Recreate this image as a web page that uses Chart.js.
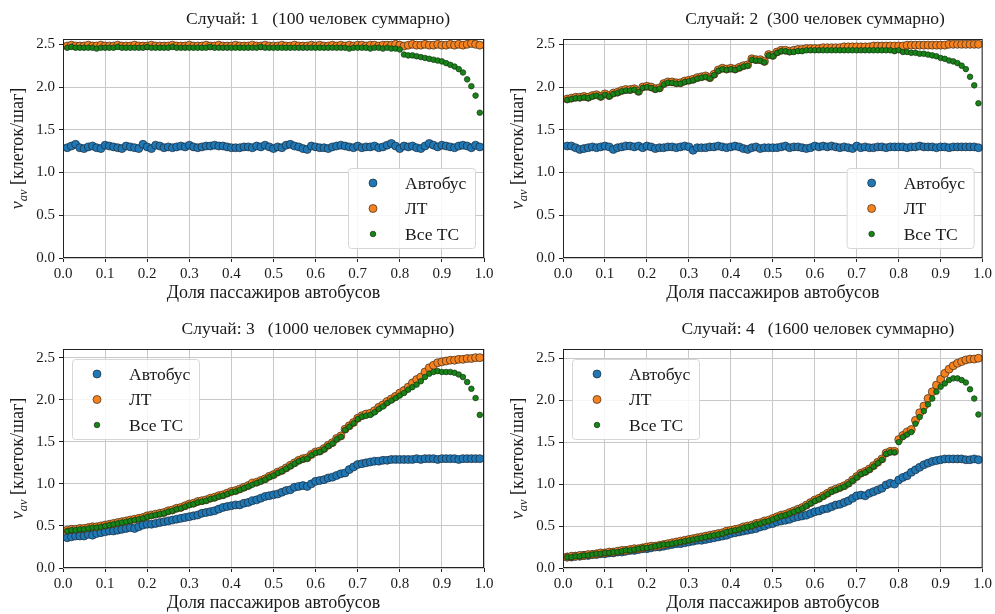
<!DOCTYPE html>
<html>
<head>
<meta charset="utf-8">
<script src="https://cdn.jsdelivr.net/npm/chart.js@4.4.1/dist/chart.umd.min.js"></script>
<style>
  html, body { margin: 0; padding: 0; background: #fff; }
  #wrap { position: relative; width: 995px; height: 614px; }
  canvas { position: absolute; }
</style>
</head>
<body>
<div id="wrap">
  <canvas id="c1" width="497" height="307" style="left:0;top:0"></canvas>
  <canvas id="c2" width="497" height="307" style="left:498px;top:0"></canvas>
  <canvas id="c3" width="497" height="307" style="left:0;top:307px"></canvas>
  <canvas id="c4" width="497" height="307" style="left:498px;top:307px"></canvas>
</div>
<script>
// =====================
// Данные
// =====================
const xs = [
  0.01,0.02,0.03,0.04,0.05,0.06,0.07,0.08,0.09,0.10,
  0.11,0.12,0.13,0.14,0.15,0.16,0.17,0.18,0.19,0.20,
  0.21,0.22,0.23,0.24,0.25,0.26,0.27,0.28,0.29,0.30,
  0.31,0.32,0.33,0.34,0.35,0.36,0.37,0.38,0.39,0.40,
  0.41,0.42,0.43,0.44,0.45,0.46,0.47,0.48,0.49,0.50,
  0.51,0.52,0.53,0.54,0.55,0.56,0.57,0.58,0.59,0.60,
  0.61,0.62,0.63,0.64,0.65,0.66,0.67,0.68,0.69,0.70,
  0.71,0.72,0.73,0.74,0.75,0.76,0.77,0.78,0.79,0.80,
  0.81,0.82,0.83,0.84,0.85,0.86,0.87,0.88,0.89,0.90,
  0.91,0.92,0.93,0.94,0.95,0.96,0.97,0.98,0.99
];
const xTicks = [0, 0.1, 0.2, 0.3, 0.4, 0.5, 0.6, 0.7, 0.8, 0.9, 1.0];
const yTicks = [0, 0.5, 1.0, 1.5, 2.0, 2.5];
const seriesNames = ["Автобус", "ЛТ", "Все ТС"];
const titles = [
  "Случай: 1   (100 человек суммарно)",
  "Случай: 2  (300 человек суммарно)",
  "Случай: 3   (1000 человек суммарно)",
  "Случай: 4   (1600 человек суммарно)"
];
const xLabel = "Доля пассажиров автобусов";

// Случай 1
const bus1 = [
  1.29,1.31,1.33,1.29,1.28,1.30,1.31,1.29,1.28,1.32,
  1.31,1.30,1.29,1.28,1.31,1.30,1.29,1.28,1.33,1.30,
  1.28,1.32,1.31,1.29,1.30,1.29,1.30,1.31,1.30,1.32,
  1.30,1.29,1.30,1.31,1.31,1.32,1.31,1.31,1.30,1.29,
  1.29,1.29,1.30,1.30,1.29,1.31,1.30,1.32,1.30,1.28,
  1.30,1.29,1.32,1.33,1.31,1.30,1.28,1.27,1.31,1.30,
  1.29,1.29,1.28,1.30,1.31,1.32,1.31,1.30,1.29,1.31,
  1.29,1.30,1.30,1.31,1.29,1.30,1.32,1.34,1.31,1.28,
  1.31,1.30,1.31,1.29,1.28,1.31,1.34,1.32,1.30,1.32,
  1.31,1.30,1.29,1.31,1.32,1.31,1.29,1.32,1.30
];
const lt1 = [
  2.48,2.49,2.48,2.48,2.48,2.49,2.48,2.48,2.49,2.48,
  2.48,2.48,2.49,2.48,2.48,2.48,2.49,2.48,2.48,2.48,
  2.49,2.48,2.48,2.48,2.48,2.49,2.48,2.48,2.48,2.49,
  2.48,2.48,2.48,2.49,2.48,2.48,2.49,2.48,2.48,2.48,
  2.49,2.48,2.48,2.48,2.49,2.48,2.48,2.49,2.48,2.48,
  2.48,2.49,2.48,2.48,2.49,2.48,2.48,2.48,2.49,2.48,
  2.49,2.48,2.48,2.49,2.48,2.49,2.48,2.49,2.48,2.49,
  2.49,2.48,2.49,2.49,2.48,2.49,2.49,2.49,2.50,2.49,
  2.48,2.49,2.50,2.49,2.49,2.50,2.49,2.49,2.50,2.49,
  2.49,2.50,2.49,2.50,2.49,2.50,2.51,2.50,2.49
];
const all1 = [
  2.46,2.47,2.46,2.46,2.46,2.46,2.46,2.45,2.46,2.46,
  2.46,2.46,2.47,2.46,2.46,2.46,2.46,2.46,2.46,2.47,
  2.46,2.46,2.46,2.46,2.46,2.47,2.46,2.46,2.46,2.46,
  2.46,2.46,2.46,2.46,2.47,2.46,2.46,2.46,2.46,2.46,
  2.46,2.46,2.46,2.46,2.46,2.46,2.47,2.46,2.46,2.46,
  2.46,2.46,2.46,2.46,2.46,2.46,2.46,2.46,2.46,2.46,
  2.46,2.46,2.46,2.46,2.46,2.46,2.46,2.45,2.46,2.46,
  2.46,2.46,2.45,2.46,2.46,2.45,2.46,2.45,2.45,2.44,
  2.38,2.37,2.37,2.36,2.35,2.34,2.33,2.32,2.31,2.30,
  2.28,2.26,2.24,2.21,2.17,2.09,2.01,1.90,1.70
];

// Случай 2
const bus2 = [
  1.31,1.31,1.29,1.27,1.28,1.29,1.30,1.29,1.30,1.31,
  1.30,1.27,1.29,1.30,1.31,1.31,1.30,1.31,1.29,1.31,
  1.30,1.28,1.29,1.29,1.30,1.30,1.29,1.30,1.31,1.30,
  1.26,1.29,1.29,1.29,1.30,1.30,1.31,1.30,1.29,1.30,
  1.31,1.30,1.28,1.27,1.29,1.30,1.28,1.29,1.29,1.29,
  1.29,1.30,1.31,1.29,1.30,1.30,1.29,1.28,1.29,1.31,
  1.30,1.31,1.30,1.31,1.30,1.29,1.30,1.29,1.28,1.31,
  1.29,1.30,1.29,1.29,1.30,1.30,1.29,1.30,1.30,1.30,
  1.30,1.29,1.30,1.30,1.31,1.30,1.30,1.30,1.29,1.30,
  1.30,1.29,1.30,1.30,1.30,1.30,1.30,1.30,1.29
];
const lt2 = [
  1.86,1.87,1.88,1.88,1.89,1.88,1.90,1.91,1.89,1.92,
  1.90,1.93,1.94,1.96,1.97,1.97,1.98,1.95,2.00,2.01,
  2.00,1.98,1.99,2.04,2.06,2.06,2.05,2.05,2.07,2.08,
  2.09,2.11,2.12,2.13,2.11,2.15,2.20,2.22,2.21,2.22,
  2.21,2.23,2.25,2.26,2.33,2.32,2.32,2.30,2.38,2.37,
  2.41,2.43,2.43,2.42,2.43,2.44,2.44,2.45,2.45,2.45,
  2.45,2.46,2.46,2.46,2.46,2.46,2.47,2.47,2.47,2.47,
  2.47,2.47,2.47,2.48,2.48,2.48,2.48,2.48,2.48,2.48,
  2.48,2.49,2.49,2.49,2.49,2.49,2.49,2.49,2.49,2.49,
  2.49,2.50,2.50,2.50,2.50,2.50,2.50,2.50,2.50
];
const all2 = [
  1.85,1.86,1.87,1.87,1.88,1.87,1.89,1.90,1.88,1.91,
  1.89,1.92,1.93,1.95,1.96,1.96,1.97,1.94,1.99,2.00,
  1.99,1.97,1.98,2.03,2.05,2.05,2.04,2.04,2.06,2.07,
  2.08,2.10,2.11,2.12,2.10,2.14,2.19,2.21,2.20,2.21,
  2.20,2.22,2.24,2.25,2.32,2.31,2.31,2.29,2.37,2.36,
  2.40,2.42,2.42,2.41,2.41,2.42,2.42,2.43,2.43,2.43,
  2.43,2.43,2.43,2.43,2.43,2.43,2.43,2.43,2.43,2.43,
  2.43,2.43,2.43,2.43,2.43,2.43,2.43,2.43,2.42,2.43,
  2.41,2.41,2.40,2.40,2.39,2.39,2.38,2.37,2.36,2.34,
  2.33,2.31,2.30,2.28,2.25,2.21,2.12,2.02,1.81
];

// Случай 3
const bus3 = [
  0.36,0.37,0.38,0.38,0.38,0.40,0.39,0.41,0.42,0.43,
  0.44,0.44,0.45,0.46,0.47,0.48,0.47,0.49,0.51,0.52,
  0.52,0.53,0.54,0.55,0.56,0.57,0.58,0.59,0.60,0.61,
  0.62,0.63,0.65,0.66,0.67,0.68,0.70,0.72,0.73,0.74,
  0.75,0.75,0.77,0.78,0.80,0.81,0.83,0.85,0.86,0.87,
  0.88,0.90,0.92,0.93,0.96,0.97,0.98,0.97,1.00,1.03,
  1.04,1.05,1.07,1.08,1.10,1.12,1.13,1.17,1.20,1.23,
  1.24,1.25,1.26,1.27,1.27,1.28,1.28,1.29,1.29,1.29,
  1.29,1.29,1.29,1.30,1.29,1.30,1.30,1.30,1.29,1.30,
  1.30,1.30,1.30,1.29,1.30,1.30,1.30,1.30,1.30
];
const lt3 = [
  0.45,0.46,0.46,0.47,0.47,0.48,0.49,0.49,0.50,0.51,
  0.52,0.53,0.54,0.55,0.56,0.57,0.58,0.59,0.60,0.62,
  0.63,0.64,0.65,0.66,0.68,0.69,0.71,0.72,0.74,0.76,
  0.77,0.79,0.80,0.81,0.83,0.84,0.86,0.87,0.89,0.91,
  0.92,0.94,0.96,0.98,1.01,1.02,1.04,1.06,1.09,1.11,
  1.14,1.16,1.19,1.22,1.25,1.28,1.30,1.31,1.35,1.38,
  1.39,1.42,1.46,1.49,1.54,1.57,1.65,1.69,1.73,1.78,
  1.81,1.83,1.84,1.87,1.91,1.94,1.98,2.01,2.04,2.08,
  2.11,2.15,2.20,2.24,2.27,2.33,2.38,2.41,2.44,2.45,
  2.46,2.47,2.47,2.48,2.48,2.49,2.49,2.50,2.50
];
const all3 = [
  0.44,0.45,0.45,0.46,0.46,0.47,0.48,0.48,0.49,0.50,
  0.51,0.52,0.53,0.54,0.55,0.56,0.57,0.58,0.59,0.61,
  0.62,0.63,0.64,0.65,0.67,0.68,0.70,0.71,0.73,0.75,
  0.76,0.78,0.79,0.80,0.82,0.83,0.85,0.86,0.88,0.90,
  0.91,0.93,0.95,0.97,0.99,1.01,1.03,1.05,1.08,1.10,
  1.13,1.15,1.18,1.21,1.24,1.27,1.29,1.30,1.34,1.37,
  1.38,1.41,1.45,1.48,1.53,1.56,1.64,1.68,1.72,1.77,
  1.80,1.81,1.82,1.85,1.89,1.92,1.96,1.99,2.02,2.05,
  2.08,2.12,2.15,2.18,2.22,2.27,2.31,2.33,2.34,2.33,
  2.33,2.33,2.32,2.30,2.27,2.21,2.13,2.02,1.82
];

// Случай 4
const bus4 = [
  0.13,0.13,0.14,0.14,0.15,0.15,0.16,0.16,0.17,0.17,
  0.18,0.18,0.19,0.19,0.20,0.21,0.21,0.22,0.23,0.23,
  0.24,0.25,0.25,0.26,0.27,0.28,0.29,0.29,0.30,0.31,
  0.32,0.33,0.33,0.34,0.35,0.36,0.37,0.38,0.39,0.41,
  0.42,0.43,0.44,0.45,0.46,0.47,0.49,0.50,0.52,0.53,
  0.55,0.56,0.57,0.58,0.60,0.61,0.62,0.63,0.65,0.67,
  0.68,0.70,0.71,0.73,0.75,0.76,0.78,0.80,0.83,0.86,
  0.87,0.86,0.89,0.91,0.93,0.95,0.99,1.01,1.00,1.05,
  1.08,1.10,1.14,1.17,1.20,1.23,1.25,1.27,1.28,1.29,
  1.30,1.30,1.30,1.30,1.30,1.29,1.29,1.30,1.29
];
const lt4 = [
  0.13,0.14,0.14,0.15,0.15,0.16,0.16,0.17,0.18,0.18,
  0.19,0.19,0.20,0.21,0.21,0.22,0.23,0.23,0.24,0.25,
  0.26,0.26,0.27,0.28,0.29,0.30,0.31,0.32,0.33,0.34,
  0.35,0.36,0.37,0.38,0.39,0.40,0.41,0.42,0.44,0.45,
  0.46,0.47,0.49,0.50,0.51,0.53,0.54,0.56,0.57,0.59,
  0.61,0.63,0.64,0.66,0.68,0.70,0.72,0.75,0.78,0.81,
  0.83,0.86,0.89,0.92,0.94,0.96,0.98,1.01,1.05,1.09,
  1.13,1.15,1.18,1.22,1.26,1.30,1.37,1.39,1.39,1.53,
  1.58,1.62,1.65,1.76,1.85,1.93,2.02,2.10,2.18,2.25,
  2.32,2.37,2.41,2.44,2.46,2.48,2.49,2.49,2.50
];
const all4 = [
  0.13,0.13,0.14,0.14,0.15,0.15,0.16,0.17,0.17,0.18,
  0.18,0.19,0.19,0.20,0.21,0.21,0.22,0.23,0.24,0.24,
  0.25,0.26,0.27,0.28,0.28,0.29,0.30,0.31,0.32,0.33,
  0.34,0.35,0.36,0.37,0.38,0.39,0.40,0.41,0.43,0.44,
  0.45,0.46,0.48,0.49,0.50,0.52,0.53,0.55,0.56,0.58,
  0.60,0.62,0.63,0.65,0.67,0.69,0.71,0.74,0.77,0.80,
  0.82,0.85,0.88,0.91,0.93,0.95,0.97,1.00,1.04,1.08,
  1.12,1.14,1.17,1.21,1.25,1.29,1.36,1.38,1.38,1.50,
  1.56,1.59,1.62,1.72,1.80,1.87,1.95,2.02,2.10,2.16,
  2.20,2.24,2.26,2.26,2.24,2.21,2.13,2.02,1.83
];

// =====================
// Оформление
// =====================
const FONT = "'Liberation Serif', 'Times New Roman', serif";
const TEXT = "#1a1a1a";

const styles = [
  { bg: "#1f77b4", border: "#1b2a3a", radius: 4, order: 3 },
  { bg: "#f5821f", border: "#3a2a1a", radius: 4, order: 2 },
  { bg: "#188418", border: "#123312", radius: 2.8, order: 1 },
];

// рисует рамку, подписи осей, заголовок и легенду
function decorPlugin(p) {
  return {
    id: "decor",
    afterDraw(chart) {
      const ctx = chart.ctx;
      const a = chart.chartArea;
      ctx.save();

      // рамка
      ctx.strokeStyle = "#222";
      ctx.lineWidth = 1;
      ctx.strokeRect(a.left + 0.5, a.top + 0.5, a.right - a.left - 1, a.bottom - a.top - 1);

      // заголовок
      ctx.fillStyle = TEXT;
      ctx.font = "17.5px " + FONT;
      ctx.textAlign = "center";
      ctx.textBaseline = "middle";
      ctx.fillText(p.title, p.titleX, p.titleY);

      // подпись оси X
      ctx.font = "18px " + FONT;
      ctx.fillText(xLabel, (a.left + a.right) / 2, a.bottom + 35);

      // подпись оси Y: v_av [клеток/шаг]
      ctx.translate(a.left - 45, (a.top + a.bottom) / 2);
      ctx.rotate(-Math.PI / 2);
      ctx.textAlign = "left";
      ctx.textBaseline = "alphabetic";
      const fMain = "italic 18px " + FONT;
      const fSub = "italic 12.5px " + FONT;
      const fRest = "18px " + FONT;
      ctx.font = fMain; const w1 = ctx.measureText("v").width;
      ctx.font = fSub; const w2 = ctx.measureText("av").width;
      ctx.font = fRest; const w3 = ctx.measureText(" [клеток/шаг]").width;
      let x = -(w1 + w2 + w3) / 2;
      ctx.font = fMain; ctx.fillText("v", x, 5); x += w1;
      ctx.font = fSub; ctx.fillText("av", x, 9); x += w2;
      ctx.font = fRest; ctx.fillText(" [клеток/шаг]", x, 5);
      ctx.restore();

      // легенда
      const bw = 127, bh = 80;
      const bx = p.legend === "lr" ? a.right - 9 - bw : a.left + 9;
      const by = p.legend === "lr" ? a.bottom - 10 - bh : a.top + 10;
      ctx.save();
      ctx.fillStyle = "rgba(255,255,255,0.85)";
      ctx.strokeStyle = "#d6d6d6";
      ctx.lineWidth = 1;
      ctx.beginPath();
      ctx.roundRect(bx + 0.5, by + 0.5, bw, bh, 3);
      ctx.fill();
      ctx.stroke();
      seriesNames.forEach((name, i) => {
        const cy = by + 15 + i * 25.5;
        const s = styles[i];
        ctx.beginPath();
        ctx.arc(bx + 25, cy, i === 2 ? 2.8 : 4, 0, Math.PI * 2);
        ctx.fillStyle = s.bg;
        ctx.fill();
        ctx.strokeStyle = s.border;
        ctx.lineWidth = 0.7;
        ctx.stroke();
        ctx.fillStyle = TEXT;
        ctx.font = "17.5px " + FONT;
        ctx.textAlign = "left";
        ctx.textBaseline = "middle";
        ctx.fillText(name, bx + 57, cy + 1);
      });
      ctx.restore();
    },
  };
}

function makePanel(id, p) {
  const canvas = document.getElementById(id);
  const W = canvas.width, H = canvas.height;
  const xAxisH = 30;

  const datasets = p.series.map((ys, i) => ({
    label: seriesNames[i],
    data: xs.map((x, k) => ({ x: x, y: ys[k] })),
    backgroundColor: styles[i].bg,
    borderColor: styles[i].border,
    borderWidth: 0.7,
    pointRadius: styles[i].radius,
    pointHoverRadius: styles[i].radius,
    showLine: false,
    order: styles[i].order,
  }));

  const tickFont = { family: FONT, size: 15 };

  return new Chart(canvas, {
    type: "scatter",
    data: { datasets },
    options: {
      responsive: false,
      animation: false,
      events: [],
      layout: {
        padding: { left: 0, top: p.area.top, right: W - p.area.right, bottom: H - p.area.bottom - xAxisH },
      },
      plugins: { legend: { display: false }, tooltip: { enabled: false }, title: { display: false } },
      scales: {
        x: {
          type: "linear",
          min: 0,
          max: 1,
          afterBuildTicks: (s) => { s.ticks = xTicks.map((v) => ({ value: v })); },
          afterFit: (s) => { s.height = xAxisH; },
          ticks: { font: tickFont, color: TEXT, padding: 3, maxRotation: 0, autoSkip: false, callback: (v) => Number(v).toFixed(1) },
          grid: { color: "#c8c8c8", lineWidth: 1, tickColor: "#222", tickLength: 4 },
          border: { display: false },
        },
        y: {
          min: 0,
          max: p.ymax,
          afterBuildTicks: (s) => { s.ticks = yTicks.map((v) => ({ value: v })); },
          afterFit: (s) => { s.width = p.area.left; },
          ticks: { font: tickFont, color: TEXT, padding: 4, callback: (v) => Number(v).toFixed(1) },
          grid: { color: "#c8c8c8", lineWidth: 1, tickColor: "#222", tickLength: 4 },
          border: { display: false },
        },
      },
    },
    plugins: [decorPlugin(p)],
  });
}

makePanel("c1", { series: [bus1, lt1, all1], title: titles[0], titleX: 318, titleY: 19, legend: "lr", ymax: 2.562, area: { left: 63, top: 39, right: 484, bottom: 258 } });
makePanel("c2", { series: [bus2, lt2, all2], title: titles[1], titleX: 317, titleY: 19, legend: "lr", ymax: 2.562, area: { left: 65, top: 39, right: 486, bottom: 258 } });
makePanel("c3", { series: [bus3, lt3, all3], title: titles[2], titleX: 318, titleY: 22, legend: "ul", ymax: 2.603, area: { left: 63, top: 42, right: 484, bottom: 261 } });
makePanel("c4", { series: [bus4, lt4, all4], title: titles[3], titleX: 320, titleY: 22, legend: "ul", ymax: 2.61, area: { left: 65, top: 42, right: 486, bottom: 261 } });
</script>
</body>
</html>
